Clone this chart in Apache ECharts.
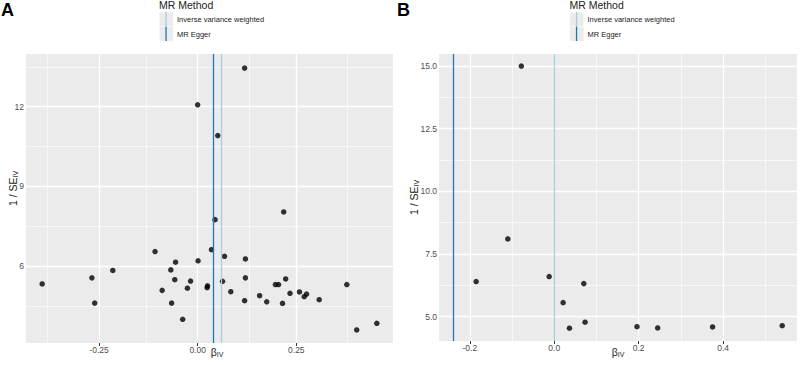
<!DOCTYPE html>
<html>
<head>
<meta charset="utf-8">
<script src="https://cdn.jsdelivr.net/npm/echarts@6/dist/echarts.min.js"></script>
<style>
html,body{margin:0;padding:0;background:#fff;}
#chart{width:800px;height:365px;}
</style>
</head>
<body>
<div id="chart"></div>
<script>
// ---------- Data: panel A ----------
const aBeta = [-0.394,-0.268,-0.261,-0.215,-0.108,-0.090,-0.056,-0.068,-0.058,-0.066,-0.038,-0.018,-0.026,
  0.000,0.001,0.044,0.035,0.068,0.025,0.024,0.063,0.051,0.119,0.218,0.121,0.121,0.084,0.119,0.157,0.175,
  0.197,0.205,0.223,0.215,0.234,0.258,0.270,0.276,0.308,0.378,0.403,0.454];
const aInvSe = [5.33,5.56,4.61,5.84,6.55,5.09,6.15,5.86,5.49,4.61,4.00,5.44,5.17,
  12.07,6.20,7.75,6.62,6.37,5.26,5.19,5.43,10.91,13.45,8.04,6.27,5.56,5.04,4.70,4.89,4.66,
  5.31,5.31,5.52,4.60,4.98,5.03,4.85,4.95,4.74,5.31,3.60,3.85];
const aIvw = 0.063;
const aEgger = 0.0395;
const aXTicks = [-0.25, 0, 0.25];
const aXMinor = [-0.375, -0.125, 0.125, 0.375];
const aYTicks = [6, 9, 12];
const aYMinor = [4.5, 7.5, 10.5, 13.5];

// ---------- Data: panel B ----------
const bBeta = [-0.078,-0.110,-0.185,-0.012,0.070,0.021,0.036,0.073,0.196,0.245,0.375,0.540];
const bInvSe = [15.0,8.10,6.40,6.60,6.32,5.56,4.54,4.78,4.60,4.55,4.59,4.64];
const bIvw = 0.0024;
const bEgger = -0.236;
const bXTicks = [-0.2, 0, 0.2, 0.4];
const bXMinor = [-0.1, 0.1, 0.3, 0.5];
const bYTicks = [5, 7.5, 10, 12.5, 15];
const bYMinor = [6.25, 8.75, 11.25, 13.75];

const methods = ['Inverse variance weighted', 'MR Egger'];
const methodColors = ['#a6cee3', '#1f78b4'];

const FONT = 'Liberation Sans, Arial, sans-serif';

function zip(xs, ys){ return xs.map((x,i)=>[x, ys[i]]); }

const nameRich = {
  m:{fontSize:10.5, color:'#222', fontFamily:FONT},
  s:{fontSize:7, color:'#222', fontFamily:FONT, verticalAlign:'bottom', padding:[6,0,0,0]}
};

function xAxisDef(idx, min, max, ticks, dec, namePad, nameGap){
  return {
    type:'value', gridIndex: idx, min:min, max:max,
    axisLine:{show:false},
    splitLine:{show:false},
    axisTick:{show:true, customValues: ticks, length:3, lineStyle:{color:'#333', width:1}},
    axisLabel:{customValues: ticks, margin:2, fontSize:8.5, color:'#4d4d4d', fontFamily:FONT,
      formatter: v => v.toFixed(dec)},
    name:'{m|β}{s|IV}', nameLocation:'middle', nameGap:nameGap, nameMoveOverlap:false,
    nameTextStyle:{padding:namePad, rich:nameRich}
  };
}
function yAxisDef(idx, min, max, ticks, dec, namePad, nameGap){
  return {
    type:'value', gridIndex: idx, min:min, max:max,
    axisLine:{show:false},
    splitLine:{show:false},
    axisTick:{show:true, customValues: ticks, length:3, lineStyle:{color:'#333', width:1}},
    axisLabel:{customValues: ticks, margin:2, fontSize:8.5, color:'#4d4d4d', fontFamily:FONT,
      formatter: v => v.toFixed(dec)},
    name:'{m|1 / SE}{s|IV}', nameLocation:'middle', nameGap:nameGap, nameRotate:90, nameMoveOverlap:false,
    nameTextStyle:{padding:namePad, rich:nameRich}
  };
}

function gridSeries(idx, xMaj, xMin, yMaj, yMin){
  const data = [];
  xMin.forEach(v=>data.push({xAxis:v, lineStyle:{color:'#fff', width:0.6, type:'solid'}}));
  yMin.forEach(v=>data.push({yAxis:v, lineStyle:{color:'#fff', width:0.6, type:'solid'}}));
  xMaj.forEach(v=>data.push({xAxis:v, lineStyle:{color:'#fff', width:1.3, type:'solid'}}));
  yMaj.forEach(v=>data.push({yAxis:v, lineStyle:{color:'#fff', width:1.3, type:'solid'}}));
  return {
    type:'scatter', xAxisIndex:idx, yAxisIndex:idx, data:[], z:1, silent:true,
    markLine:{z:1, silent:true, symbol:['none','none'], label:{show:false}, animation:false,
      emphasis:{disabled:true}, data:data}
  };
}
function refSeries(idx, name, val, color){
  return {
    type:'scatter', name:name, xAxisIndex:idx, yAxisIndex:idx, data:[], z:4, silent:true,
    markLine:{z:4, silent:true, symbol:['none','none'], label:{show:false}, animation:false,
      emphasis:{disabled:true},
      data:[{xAxis:val, lineStyle:{color:color, width:1.3, type:'solid'}}]}
  };
}
function pointSeries(idx, xs, ys){
  return {
    type:'scatter', xAxisIndex:idx, yAxisIndex:idx, data:zip(xs, ys), z:3,
    symbol:'circle', symbolSize:5.5, itemStyle:{color:'#000'}, silent:true
  };
}

function legendGraphics(left){
  const els = [];
  els.push({type:'text', left:left, top:-1, style:{text:'MR Method', fontSize:10.5, fill:'#222', fontFamily:FONT}});
  methods.forEach((m,i)=>{
    const top = 12 + i*14.5;
    els.push({type:'rect', left:left, top:top, shape:{width:14, height:14.5}, style:{fill:'#ebebeb', stroke:'#fff', lineWidth:0.5}});
    els.push({type:'rect', left:left+6.4, top:top, shape:{width:1.3, height:14.5}, style:{fill:methodColors[i]}});
    els.push({type:'text', left:left+18, top:top+3.5, style:{text:m, fontSize:7.5, fill:'#222', fontFamily:FONT}});
  });
  return els;
}

const chart = echarts.init(document.getElementById('chart'), null, {renderer:'svg'});
chart.setOption({
  animation:false,
  backgroundColor:'#fff',
  textStyle:{fontFamily:FONT},
  grid:[
    {left:26, top:54, width:367, height:289, show:true, backgroundColor:'#ebebeb', borderWidth:0, outerBoundsMode:'none', containLabel:false},
    {left:439, top:54, width:358, height:287, show:true, backgroundColor:'#ebebeb', borderWidth:0, outerBoundsMode:'none', containLabel:false}
  ],
  xAxis:[
    xAxisDef(0, -0.435, 0.495, aXTicks, 2, [0,0,0,15], 2),
    xAxisDef(1, -0.273, 0.575, bXTicks, 1, [0,0,0,0], 4)
  ],
  yAxis:[
    yAxisDef(0, 3.11, 13.98, aYTicks, 0, [0,0,0,20], 7),
    yAxisDef(1, 4.03, 15.48, bYTicks, 1, [0,0,0,0], 19)
  ],
  series:[
    gridSeries(0, aXTicks, aXMinor, aYTicks, aYMinor),
    gridSeries(1, bXTicks, bXMinor, bYTicks, bYMinor),
    pointSeries(0, aBeta, aInvSe),
    pointSeries(1, bBeta, bInvSe),
    refSeries(0, methods[0], aIvw, methodColors[0]),
    refSeries(0, methods[1], aEgger, methodColors[1]),
    refSeries(1, methods[0], bIvw, methodColors[0]),
    refSeries(1, methods[1], bEgger, methodColors[1])
  ],
  graphic:[
    {type:'text', left:1, top:1, style:{text:'A', fontSize:18, fontWeight:'bold', fill:'#000', fontFamily:FONT}},
    {type:'text', left:397, top:1, style:{text:'B', fontSize:18, fontWeight:'bold', fill:'#000', fontFamily:FONT}}
  ].concat(legendGraphics(159)).concat(legendGraphics(569.5))
});
</script>
</body>
</html>
